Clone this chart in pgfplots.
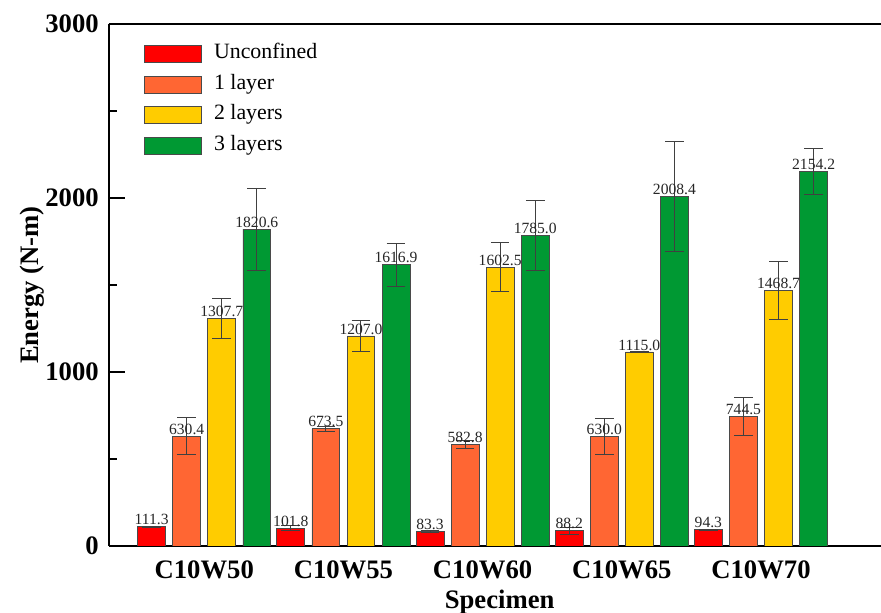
\documentclass[border=0pt]{standalone}
\usepackage{pgfplots}
\pgfplotsset{compat=1.18}
\usepackage{fontspec}
\setmainfont{Liberation Serif}
\definecolor{cRed}{HTML}{FF0000}
\definecolor{cOrange}{HTML}{FF6633}
\definecolor{cYellow}{HTML}{FFCC00}
\definecolor{cGreen}{HTML}{009933}
\definecolor{cEdge}{HTML}{4A4A4A}
\begin{document}
\begin{tikzpicture}
\begin{axis}[
  ybar, bar width=0.2, bar shift=0pt,
  name=ax,
  scale only axis,
  width=579pt, height=391.5pt,
  xmin=-0.684, xmax=4.862,
  ymin=0, ymax=3000,
  axis x line=box, axis y line*=left,
  axis line style={line width=1.2pt, black},
  ytick={0,1000,2000,3000},
  minor ytick={500,1500,2500},
  major tick length=12pt, minor tick length=6pt,
  tick align=inside,
  every tick/.style={black, line width=1pt},
  xtick={0,1,2,3,4},
  xticklabels={C10W50,C10W55,C10W60,C10W65,C10W70},
  major x tick style={draw=none},
  /pgf/number format/1000 sep={},
  /pgf/number format/assume math mode=true,
  ticklabel style={font=\fontsize{20}{22}\selectfont\bfseries},
  yticklabel style={inner sep=0pt, xshift=-7.5pt},
  xticklabel style={inner sep=0pt, yshift=-11pt, anchor=north},
  xlabel={Specimen},
  ylabel={Energy (N-m)},
  label style={font=\fontsize{20}{22}\selectfont\bfseries},
  xlabel style={at={(axis description cs:0.506,0)}, anchor=north, inner sep=0pt, yshift=-33pt},
  ylabel style={at={(axis description cs:-0.116,0.5)}, anchor=north, inner sep=0pt},
  error bars/y dir=both, error bars/y explicit,
  error bars/error bar style={line width=0.7pt, draw=black!75},
  error bars/error mark options={line width=0.7pt, draw=black!75, mark size=7pt, rotate=90},
  nodes near coords={\pgfmathprintnumber[fixed,fixed zerofill,precision=1,1000 sep={}]{\pgfplotspointmeta}},
  every node near coord/.append style={font=\fontsize{11.7}{12}\selectfont, text=black!85, inner sep=1pt, anchor=south},
  legend style={draw=none, fill=none, at={(axis description cs:0,1)}, anchor=north west, xshift=26.25pt, yshift=-15pt, inner sep=0pt, row sep=7.8pt, font=\fontsize{16.4}{18}\selectfont, nodes={inner sep=0pt, text height=11pt, text depth=4pt}},
  legend cell align=left,
  legend image code/.code={\draw[#1] (0pt,-6.4pt) rectangle (42.75pt,6.4pt); \path (51.75pt,0pt);},
]
\addplot[fill=cRed, draw=cEdge, line width=0.6pt] coordinates {
 (-0.378,111.3) +- (0,3) (0.622,101.8) +- (0,14) (1.622,83.3) +- (0,8) (2.622,88.2) +- (0,20) (3.622,94.3) +- (0,3)};
\addlegendentry{Unconfined}
\addplot[fill=cOrange, draw=cEdge, line width=0.6pt] coordinates {
 (-0.126,630.4) +- (0,106) (0.874,673.5) +- (0,16) (1.874,582.8) +- (0,22) (2.874,630.0) +- (0,103) (3.874,744.5) +- (0,110)};
\addlegendentry{1 layer}
\addplot[fill=cYellow, draw=cEdge, line width=0.6pt] coordinates {
 (0.126,1307.7) +- (0,113) (1.126,1207.0) +- (0,90) (2.126,1602.5) +- (0,141) (3.126,1115.0) +- (0,3) (4.126,1468.7) +- (0,165)};
\addlegendentry{2 layers}
\addplot[fill=cGreen, draw=cEdge, line width=0.6pt] coordinates {
 (0.378,1820.6) +- (0,237) (1.378,1616.9) +- (0,123) (2.378,1785.0) +- (0,201) (3.378,2008.4) +- (0,315) (4.378,2154.2) +- (0,132)};
\addlegendentry{3 layers}
\end{axis}
\pgfresetboundingbox
\path ([shift={(-81.75pt,-50.25pt)}]ax.south west) rectangle ([shift={(0pt,18pt)}]ax.north east);
\end{tikzpicture}
\end{document}
